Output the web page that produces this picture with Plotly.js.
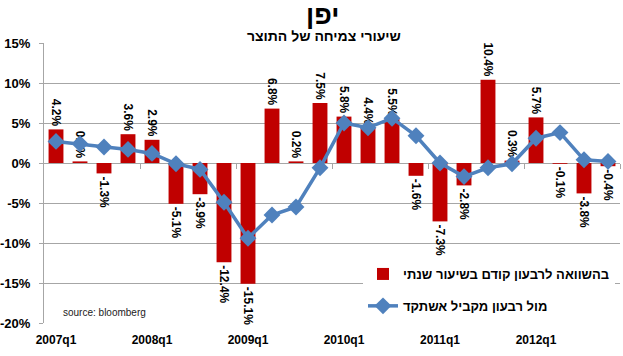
<!DOCTYPE html>
<html>
<head>
<meta charset="utf-8">
<script src="https://cdn.plot.ly/plotly-3.0.1.min.js"></script>
<style>html,body{margin:0;padding:0;background:#fff;}#chart{width:623px;height:356px;}</style>
</head>
<body>
<div id="chart"></div>
<script>
const quarters = ['2007q1','2007q2','2007q3','2007q4','2008q1','2008q2','2008q3','2008q4',
  '2009q1','2009q2','2009q3','2009q4','2010q1','2010q2','2010q3','2010q4',
  '2011q1','2011q2','2011q3','2011q4','2012q1','2012q2','2012q3','2012q4'];
const qoqAnnualized = [4.2,0.2,-1.3,3.6,2.9,-5.1,-3.9,-12.4,-15.1,6.8,0.2,7.5,5.8,4.4,5.5,-1.6,-7.3,-2.8,10.4,0.3,5.7,-0.1,-3.8,-0.4];
const yoy = [2.7,2.4,2.0,1.7,1.2,-0.1,-0.8,-4.9,-9.4,-6.5,-5.5,-0.6,5.0,4.4,5.6,3.4,0.0,-1.7,-0.6,-0.1,3.1,3.8,0.4,0.2];
const yTicks = [-20,-15,-10,-5,0,5,10,15];
const seriesNames = ['בהשוואה לרבעון קודם בשיעור שנתי','מול רבעון מקביל אשתקד'];

const idx = quarters.map((q,i)=>i);
const tickIdx = idx.filter(i=>quarters[i].endsWith('q1'));
const boundaryIdx = tickIdx.map(i=>i+3.5);

const FONT = 'Arial, "Liberation Sans", sans-serif';

const traces = [
  {
    type:'bar', x: idx, y: qoqAnnualized, name: seriesNames[0],
    marker:{color:'#C00000'}, width:0.62,
    text: qoqAnnualized.map(v=>v.toFixed(1)+'%'),
    textposition:'outside', textangle:90, constraintext:'none', cliponaxis:false,
    textfont:{family:FONT, size:12, color:'#000', weight:'bold'},
    legendgroup:'a', hoverinfo:'skip'
  },
  {
    type:'scatter', mode:'lines+markers', x: idx, y: yoy, name: seriesNames[1],
    line:{color:'#4F81BD', width:3.5},
    marker:{symbol:'diamond', size:13, color:'#4F81BD'},
    legendgroup:'b', hoverinfo:'skip'
  },
  { type:'scatter', x:[], y:[], xaxis:'x2', showlegend:false, hoverinfo:'skip' }
];

const layout = {
  width:623, height:356,
  margin:{l:44, r:3, t:43, b:33, autoexpand:false},
  paper_bgcolor:'#fff', plot_bgcolor:'#fff',
  font:{family:FONT, color:'#000'},
  showlegend:true,
  xaxis:{
    range:[-0.5,23.5], autorange:false,
    tickvals: tickIdx, ticktext: tickIdx.map(i=>quarters[i]),
    ticks:'outside', ticklen:6, tickcolor:'rgba(0,0,0,0)',
    tickfont:{family:FONT, size:12, color:'#000', weight:'bold'},
    showgrid:false, zeroline:false, showline:false, fixedrange:true
  },
  xaxis2:{
    overlaying:'x', anchor:'free', position:20/35,
    range:[-0.5,23.5], autorange:false,
    tickvals: boundaryIdx, showticklabels:false,
    ticks:'outside', ticklen:5, tickcolor:'#A6A6A6', tickwidth:1,
    showgrid:false, zeroline:false, showline:false
  },
  yaxis:{
    range:[-20,15], autorange:false,
    tickvals: yTicks, ticktext: yTicks.map(v=>v+'%'),
    tickfont:{family:FONT, size:13, color:'#000', weight:'bold'},
    ticks:'outside', ticklen:4, tickcolor:'#A6A6A6', ticklabelstandoff:6,
    showgrid:true, gridcolor:'#A6A6A6', gridwidth:1,
    zeroline:true, zerolinecolor:'#A6A6A6', zerolinewidth:1,
    showline:true, linecolor:'#A6A6A6', linewidth:1, fixedrange:true
  },
  legend:{
    x:(363-44)/576, xanchor:'left', y:(323-259)/280, yanchor:'top',
    bgcolor:'#fff', borderwidth:0,
    font:{family:FONT, size:13, color:'#000', weight:'bold'},
    traceorder:'grouped', tracegroupgap:12
  },
  annotations:[
    {text:'יפן', xref:'paper', yref:'paper', x:(322-44)/576, y:(323-15)/280,
     xanchor:'center', yanchor:'middle', showarrow:false,
     font:{family:FONT, size:27, color:'#000', weight:'bold'}},
    {text:'שיעורי צמיחה של התוצר', xref:'paper', yref:'paper', x:(324-44)/576, y:(323-36)/280,
     xanchor:'center', yanchor:'middle', showarrow:false,
     font:{family:FONT, size:14, color:'#000', weight:'bold'}},
    {text:'source: bloomberg', xref:'paper', yref:'paper', x:(61-44)/576, y:(323-312)/280,
     xanchor:'left', yanchor:'middle', showarrow:false,
     font:{family:FONT, size:10, color:'#222'}}
  ]
};

Plotly.newPlot('chart', traces, layout, {staticPlot:true, displayModeBar:false});
</script>
</body>
</html>
